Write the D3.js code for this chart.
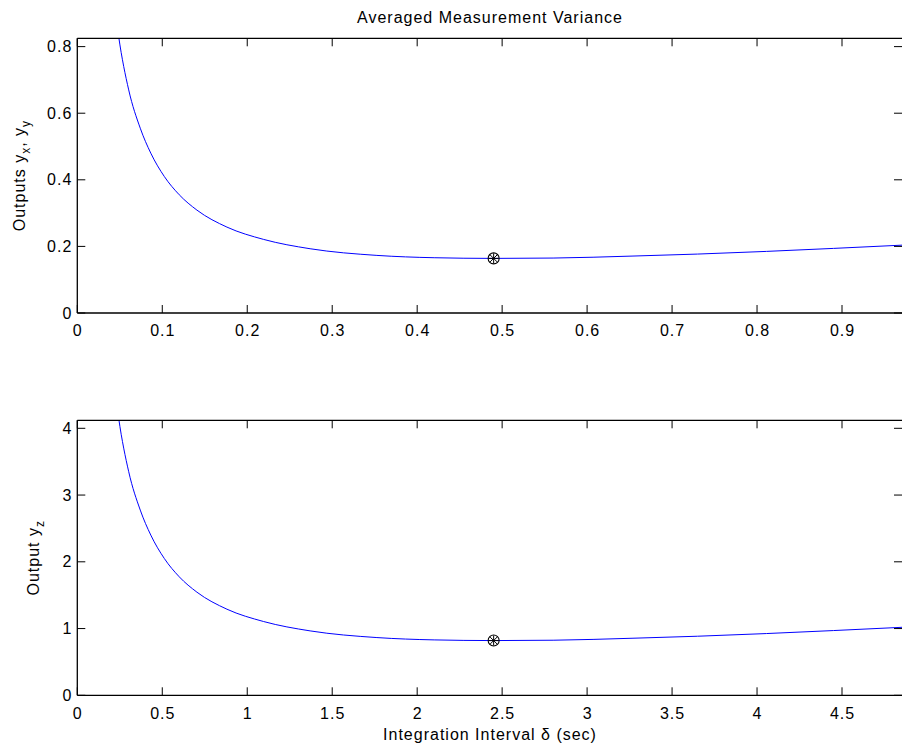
<!DOCTYPE html>
<html><head><meta charset="utf-8">
<script src="https://cdn.jsdelivr.net/npm/d3@7"></script>
<style>
body{margin:0;background:#fff;}
text{font-family:"Liberation Sans",Arial,Helvetica,sans-serif;fill:#000;letter-spacing:1px;}
</style></head>
<body><svg id="c" width="902" height="748"></svg>
<script>
// Top panel (outputs y_x, y_y)
const topX = [0.044, 0.0487, 0.0605, 0.0741, 0.0865, 0.1024, 0.12, 0.1408, 0.1761, 0.2193, 0.274, 0.3526, 0.42, 0.49, 0.56, 0.654, 0.73, 0.811, 0.89, 0.9726];
const topY = [0.92, 0.83, 0.67, 0.555, 0.48, 0.41, 0.355, 0.309, 0.258, 0.221, 0.193, 0.173, 0.166, 0.164, 0.165, 0.171, 0.177, 0.185, 0.194, 0.204];
const topMin = {x: 0.49, y: 0.164};
const topXTicks = [0, 0.1, 0.2, 0.3, 0.4, 0.5, 0.6, 0.7, 0.8, 0.9];
const topYTicks = [0, 0.2, 0.4, 0.6, 0.8];
const topDomainX = [0, 0.9706];
const topDomainY = [0, 0.825];

// Bottom panel (output y_z)
const botX = [0.22, 0.2435, 0.3025, 0.3705, 0.4325, 0.512, 0.6, 0.704, 0.8805, 1.0965, 1.37, 1.763, 2.1, 2.45, 2.8, 3.27, 3.65, 4.055, 4.45, 4.863];
const botY = [4.6, 4.15, 3.35, 2.775, 2.4, 2.05, 1.775, 1.545, 1.29, 1.105, 0.965, 0.865, 0.83, 0.82, 0.825, 0.855, 0.885, 0.925, 0.97, 1.02];
const botMin = {x: 2.45, y: 0.82};
const botXTicks = [0, 0.5, 1, 1.5, 2, 2.5, 3, 3.5, 4, 4.5];
const botYTicks = [0, 1, 2, 3, 4];
const botDomainX = [0, 4.853];
const botDomainY = [0, 4.12];

const svg = d3.select("#c");
const L = 77.3, R = 902, FS = 16;

function panel(id, y0, y1, xs, ys, mn, xt, yt, dx, dy) {
  const x = d3.scaleLinear().domain(dx).range([L, R]);
  const y = d3.scaleLinear().domain(dy).range([y1, y0]);
  const g = svg.append("g");
  g.append("clipPath").attr("id", id).append("rect")
    .attr("x", L).attr("y", y0).attr("width", R - L).attr("height", y1 - y0);
  const pts = xs.map((v, i) => [v, ys[i]]);
  g.append("path").datum(pts).attr("clip-path", `url(#${id})`)
    .attr("fill", "none").attr("stroke", "#0000ff").attr("stroke-width", 1)
    .attr("d", d3.line().x(d => x(d[0])).y(d => y(d[1])).curve(d3.curveMonotoneX));
  const ax = d3.axisBottom(x).tickValues(xt).tickSize(0).tickPadding(12).tickFormat(d3.format("~g"));
  const gx = g.append("g").attr("transform", `translate(0,${y1})`).call(ax);
  gx.select(".domain").remove();
  gx.selectAll("text").attr("font-size", FS).attr("font-family", "Liberation Sans, Arial, sans-serif");
  const ay = d3.axisLeft(y).tickValues(yt).tickSize(0).tickPadding(5).tickFormat(d3.format("~g"));
  const gy = g.append("g").attr("transform", `translate(${L},0)`).call(ay);
  gy.select(".domain").remove();
  gy.selectAll("text").attr("font-size", FS).attr("font-family", "Liberation Sans, Arial, sans-serif");
  xt.forEach(t => {
    g.append("line").attr("x1", x(t)).attr("x2", x(t)).attr("y1", y1).attr("y2", y1 - 8).attr("stroke", "#000");
    g.append("line").attr("x1", x(t)).attr("x2", x(t)).attr("y1", y0).attr("y2", y0 + 8).attr("stroke", "#000");
  });
  yt.forEach(t => {
    g.append("line").attr("x1", L).attr("x2", L + 8).attr("y1", y(t)).attr("y2", y(t)).attr("stroke", "#000");
    g.append("line").attr("x1", R).attr("x2", R - 8).attr("y1", y(t)).attr("y2", y(t)).attr("stroke", "#000");
  });
  g.append("line").attr("x1", L).attr("x2", R).attr("y1", y0).attr("y2", y0).attr("stroke", "#000").attr("stroke-width", 1.3);
  g.append("line").attr("x1", L).attr("x2", R).attr("y1", y1).attr("y2", y1).attr("stroke", "#000").attr("stroke-width", 1.3);
  g.append("line").attr("x1", L).attr("x2", L).attr("y1", y0).attr("y2", y1).attr("stroke", "#000").attr("stroke-width", 1.3);
  const mg = g.append("g").attr("transform", `translate(${x(mn.x)},${y(mn.y)})`);
  mg.append("circle").attr("r", 5.5).attr("fill", "none").attr("stroke", "#000").attr("stroke-width", 1.1);
  [0, 45, 90, 135].forEach(a => {
    const r = 5, c = Math.cos(a * Math.PI / 180) * r, s = Math.sin(a * Math.PI / 180) * r;
    mg.append("line").attr("x1", -c).attr("y1", -s).attr("x2", c).attr("y2", s).attr("stroke", "#000").attr("stroke-width", 1);
  });
}

panel("clipT", 38.3, 313, topX, topY, topMin, topXTicks, topYTicks, topDomainX, topDomainY);
panel("clipB", 420.3, 695.3, botX, botY, botMin, botXTicks, botYTicks, botDomainX, botDomainY);

svg.append("text").attr("x", 490).attr("y", 23).attr("text-anchor", "middle").attr("font-size", FS)
  .text("Averaged Measurement Variance");
svg.append("text").attr("x", 490).attr("y", 740).attr("text-anchor", "middle").attr("font-size", FS)
  .text("Integration Interval \u03b4 (sec)");
const yl1 = svg.append("text").attr("transform", "translate(25,175.6) rotate(-90)").attr("text-anchor", "middle").attr("font-size", FS);
yl1.append("tspan").text("Outputs y");
yl1.append("tspan").attr("dy", 5).attr("font-size", 12).text("x");
yl1.append("tspan").attr("dy", -5).text(", y");
yl1.append("tspan").attr("dy", 5).attr("font-size", 12).text("y");
const yl2 = svg.append("text").attr("transform", "translate(39,557.8) rotate(-90)").attr("text-anchor", "middle").attr("font-size", FS);
yl2.append("tspan").text("Output y");
yl2.append("tspan").attr("dy", 5).attr("font-size", 12).text("z");
</script></body></html>
